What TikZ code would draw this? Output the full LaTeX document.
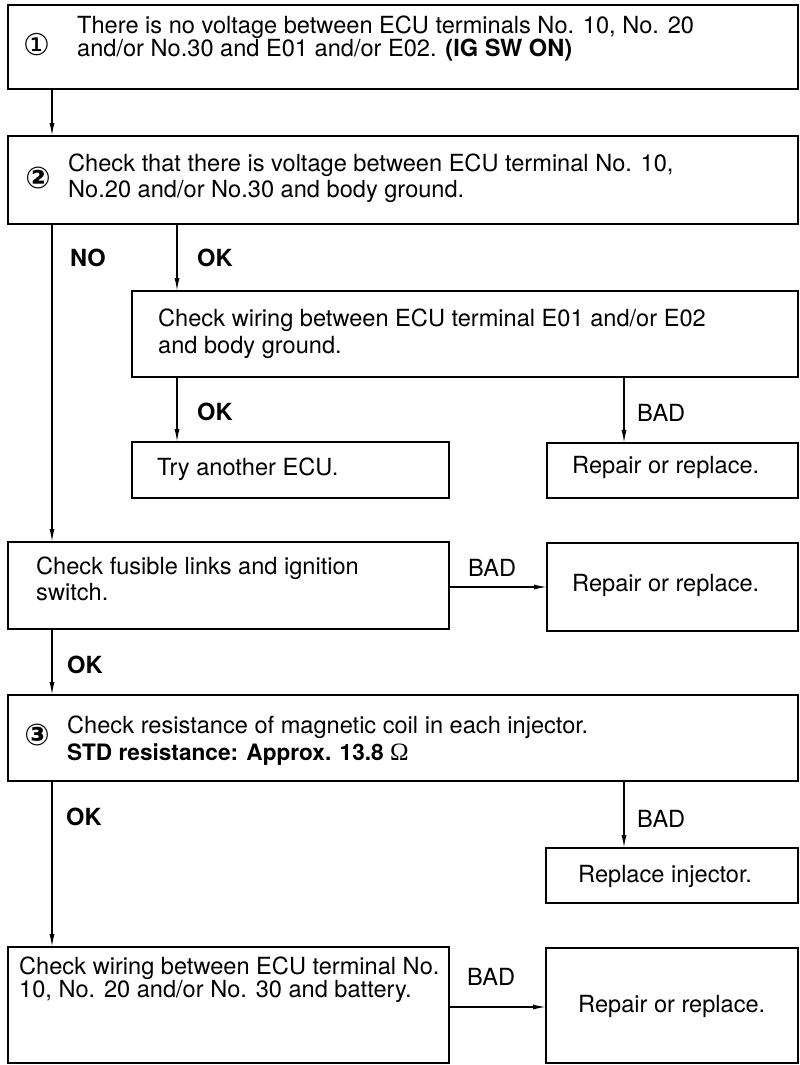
\documentclass[tikz,border=0pt]{standalone}
\usepackage{fontspec}
\setmainfont{TeX Gyre Heros}
\newfontfamily\symf{DejaVu Sans}
\newfontfamily\omegaf{Liberation Serif}
\usetikzlibrary{arrows.meta}
\tikzset{
  box/.style={draw, line width=2.6pt, rectangle, inner sep=0pt, outer sep=0pt, anchor=north west},
  txt/.style={anchor=base west, align=left, inner sep=0pt, font=\fontsize{23.6}{#1}\selectfont},
  txt/.default=27,
  lbl/.style={anchor=base west, inner sep=0pt, font=\fontsize{23.6}{27}\selectfont\bfseries},
  bad/.style={anchor=base west, inner sep=0pt, font=\fontsize{23.6}{27}\selectfont},
  num/.style={anchor=center, inner sep=0pt, font=\fontsize{30}{32}\symf},
  arr/.style={line width=1.4pt, -{Latex[length=13pt,width=5pt]}}
}
\begin{document}
\begin{tikzpicture}[x=1pt,y=-1pt]
\useasboundingbox (0,0) rectangle (800,1065);
% boxes
\node[box, minimum width=790, minimum height=84] (b1) at (8,5) {};
\node[box, minimum width=790, minimum height=88] (b2) at (8,136) {};
\node[box, minimum width=666, minimum height=86] (b3) at (132,291) {};
\node[box, minimum width=317, minimum height=56] (b4) at (132,442) {};
\node[box, minimum width=251, minimum height=55] (b5) at (547,443) {};
\node[box, minimum width=441, minimum height=87] (b6) at (8,542) {};
\node[box, minimum width=251, minimum height=88] (b7) at (547,543) {};
\node[box, minimum width=790, minimum height=86] (b8) at (8,695) {};
\node[box, minimum width=252, minimum height=55] (b9) at (546,848) {};
\node[box, minimum width=441, minimum height=116] (b10) at (8,947) {};
\node[box, minimum width=252, minimum height=115] (b11) at (546,948) {};
% circled numbers
\node[num] (n1) at (37,45) {①};
\node[num, font=\fontsize{30}{32}\symf\bfseries] (n2) at (38,178) {②};
\node[num, font=\fontsize{30}{32}\symf\bfseries] (n3) at (37,735) {③};
% texts (anchor = baseline of the last line)
\node[txt=20] (t1) at (77,56.7) {There is no voltage between ECU terminals No. 10, No. 20\\and/or No.30 and E01 and/or E02. \textbf{(IG SW ON)}};
\node[txt=26] (t2) at (68,197.7) {Check that there is voltage between ECU terminal No. 10,\\No.20 and/or No.30 and body ground.};
\node[txt=27] (t3) at (158,353.7) {Check wiring between ECU terminal E01 and/or E02\\and body ground.};
\node[txt] (t4) at (157,475) {Try another ECU.};
\node[txt] (t5) at (572,473) {Repair or replace.};
\node[txt=26] (t6) at (36,600) {Check fusible links and ignition\\switch.};
\node[txt] (t7) at (572,591) {Repair or replace.};
\node[txt=27] (t8) at (67,760) {Check resistance of magnetic coil in each injector.\\{\fontsize{22.6}{27}\selectfont\bfseries STD resistance: Approx. 13.8} {\omegaf\fontsize{25}{27}\selectfont Ω}};
\node[txt] (t9) at (578,882) {Replace injector.};
\node[txt=19.5] (t10) at (19,997.5) {Check wiring between ECU terminal No.\\10, No. 20 and/or No. 30 and battery.};
\node[txt] (t11) at (578,1012) {Repair or replace.};
% connector labels
\node[lbl] (l1) at (70,266.7) {NO};
\node[lbl] (l2) at (197,266.7) {OK};
\node[lbl] (l3) at (197,420) {OK};
\node[bad] (l4) at (637,421.7) {BAD};
\node[bad] (l5) at (468,576) {BAD};
\node[lbl] (l6) at (67,673) {OK};
\node[lbl] (l7) at (66,825) {OK};
\node[bad] (l8) at (637,827) {BAD};
\node[bad] (l9) at (467,985) {BAD};
% guide coordinates
\coordinate (xL) at (52,0);
\coordinate (xM) at (177,0);
\coordinate (xR) at (624,0);
\coordinate (yA) at (0,587);
\coordinate (yB) at (0,1007);
% connectors
\draw[arr] (b1.south -| xL) -- (b2.north -| xL);
\draw[arr] (b2.south -| xL) -- (b6.north -| xL);
\draw[arr] (b2.south -| xM) -- (b3.north -| xM);
\draw[arr] (b3.south -| xM) -- (b4.north -| xM);
\draw[arr] (b3.south -| xR) -- (b5.north -| xR);
\draw[arr] (b6.east |- yA) -- (b7.west |- yA);
\draw[arr] (b6.south -| xL) -- (b8.north -| xL);
\draw[arr] (b8.south -| xL) -- (b10.north -| xL);
\draw[arr] (b8.south -| xR) -- (b9.north -| xR);
\draw[arr] (b10.east |- yB) -- (b11.west |- yB);
\end{tikzpicture}
\end{document}
